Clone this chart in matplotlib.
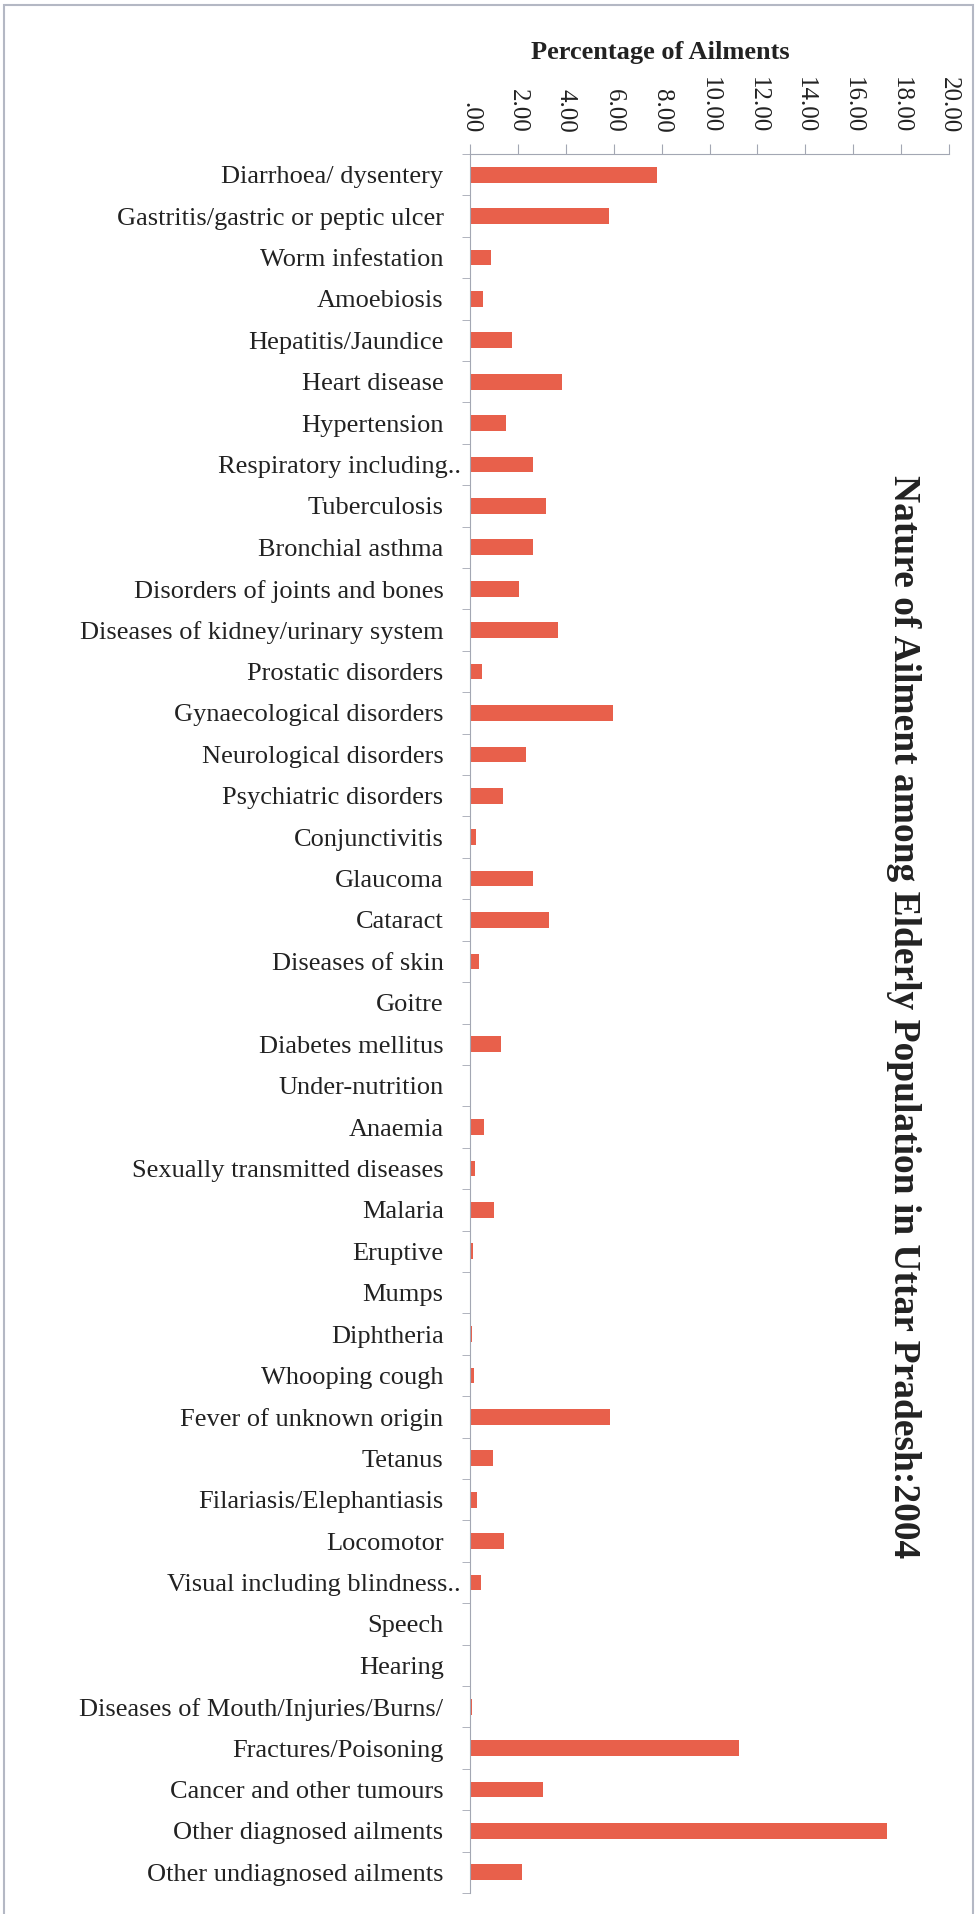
import matplotlib
matplotlib.use("Agg")
import matplotlib.pyplot as plt
from matplotlib.patches import Rectangle
from matplotlib.transforms import ScaledTranslation
import numpy as np

# ailment categories, top to bottom
ailments = [
    "Diarrhoea/ dysentery", "Gastritis/gastric or peptic ulcer", "Worm infestation",
    "Amoebiosis", "Hepatitis/Jaundice", "Heart disease", "Hypertension",
    "Respiratory including..", "Tuberculosis", "Bronchial asthma",
    "Disorders of joints and bones", "Diseases of kidney/urinary system",
    "Prostatic disorders", "Gynaecological disorders", "Neurological disorders",
    "Psychiatric disorders", "Conjunctivitis", "Glaucoma", "Cataract",
    "Diseases of skin", "Goitre", "Diabetes mellitus", "Under-nutrition",
    "Anaemia", "Sexually transmitted diseases", "Malaria", "Eruptive", "Mumps",
    "Diphtheria", "Whooping cough", "Fever of unknown origin", "Tetanus",
    "Filariasis/Elephantiasis", "Locomotor", "Visual including blindness..",
    "Speech", "Hearing", "Diseases of Mouth/Injuries/Burns/",
    "Fractures/Poisoning", "Cancer and other tumours", "Other diagnosed ailments",
    "Other undiagnosed ailments",
]
percent = [
    7.80, 5.80, 0.88, 0.55, 1.77, 3.86, 1.49, 2.61, 3.18, 2.61,
    2.06, 3.68, 0.50, 5.97, 2.34, 1.36, 0.26, 2.61, 3.31, 0.37,
    0.00, 1.28, 0.03, 0.58, 0.20, 1.02, 0.13, 0.05, 0.10, 0.15,
    5.85, 0.96, 0.29, 1.44, 0.45, 0.00, 0.05, 0.10, 11.25, 3.06,
    17.40, 2.19,
]
xticks = np.arange(0, 21, 2)
xtick_labels = [".00"] + [f"{v:.2f}" for v in xticks[1:]]

serif = ["Liberation Serif", "DejaVu Serif"]
plt.rcParams["font.family"] = serif

axis_col = "#a3a7b3"
bar_col = "#e8604b"

fig = plt.figure(figsize=(9.8, 19.14), dpi=100)
ax = fig.add_axes([470 / 980, 1 - 1893 / 1914, 479 / 980, (1893 - 154) / 1914])

y = np.arange(len(ailments))
ax.barh(y, percent, height=0.38, color=bar_col)

ax.set_xlim(0, 20)
ax.set_ylim(len(ailments) - 0.5, -0.5)

ax.xaxis.tick_top()
ax.set_xticks(xticks)
ax.set_xticklabels(xtick_labels, rotation=-90, fontsize=18, color="#222222")
ax.tick_params(axis="x", direction="out", length=7, color=axis_col, pad=8)
for lab in ax.get_xticklabels():
    lab.set_verticalalignment("bottom")

ax.set_yticks(y)
ax.set_yticklabels(ailments, fontsize=19, color="#222222")
ax.set_yticks(np.arange(-0.5, len(ailments), 1.0), minor=True)
ax.tick_params(axis="y", which="major", length=0, pad=19)
ax.tick_params(axis="y", which="minor", length=6, direction="out", color=axis_col)
# truncated labels run a bit past the others, like the original
for lab in ax.get_yticklabels():
    if lab.get_text().endswith(".."):
        lab.set_transform(lab.get_transform() + ScaledTranslation(0.17, 0, fig.dpi_scale_trans))

for side in ["right", "bottom"]:
    ax.spines[side].set_visible(False)
ax.spines["top"].set_color(axis_col)
ax.spines["left"].set_color(axis_col)

fig.text(660 / 980, 1 - 53 / 1914, "Percentage of Ailments", fontsize=19,
         fontweight="bold", ha="center", va="center", color="#222222")
fig.text(903 / 980, 1 - 1017 / 1914,
         "Nature of Ailment among Elderly Population in Uttar Pradesh:2004",
         fontsize=27, fontweight="bold", rotation=-90, ha="center", va="center",
         color="#222222")

# outer frame around the chart
fig.patches.append(Rectangle((4 / 980, -0.01), 969 / 980, 1 - 5 / 1914 + 0.01,
                             transform=fig.transFigure, fill=False,
                             edgecolor="#b4b8c4", linewidth=1.5))

fig.savefig("out.png", dpi=100)
